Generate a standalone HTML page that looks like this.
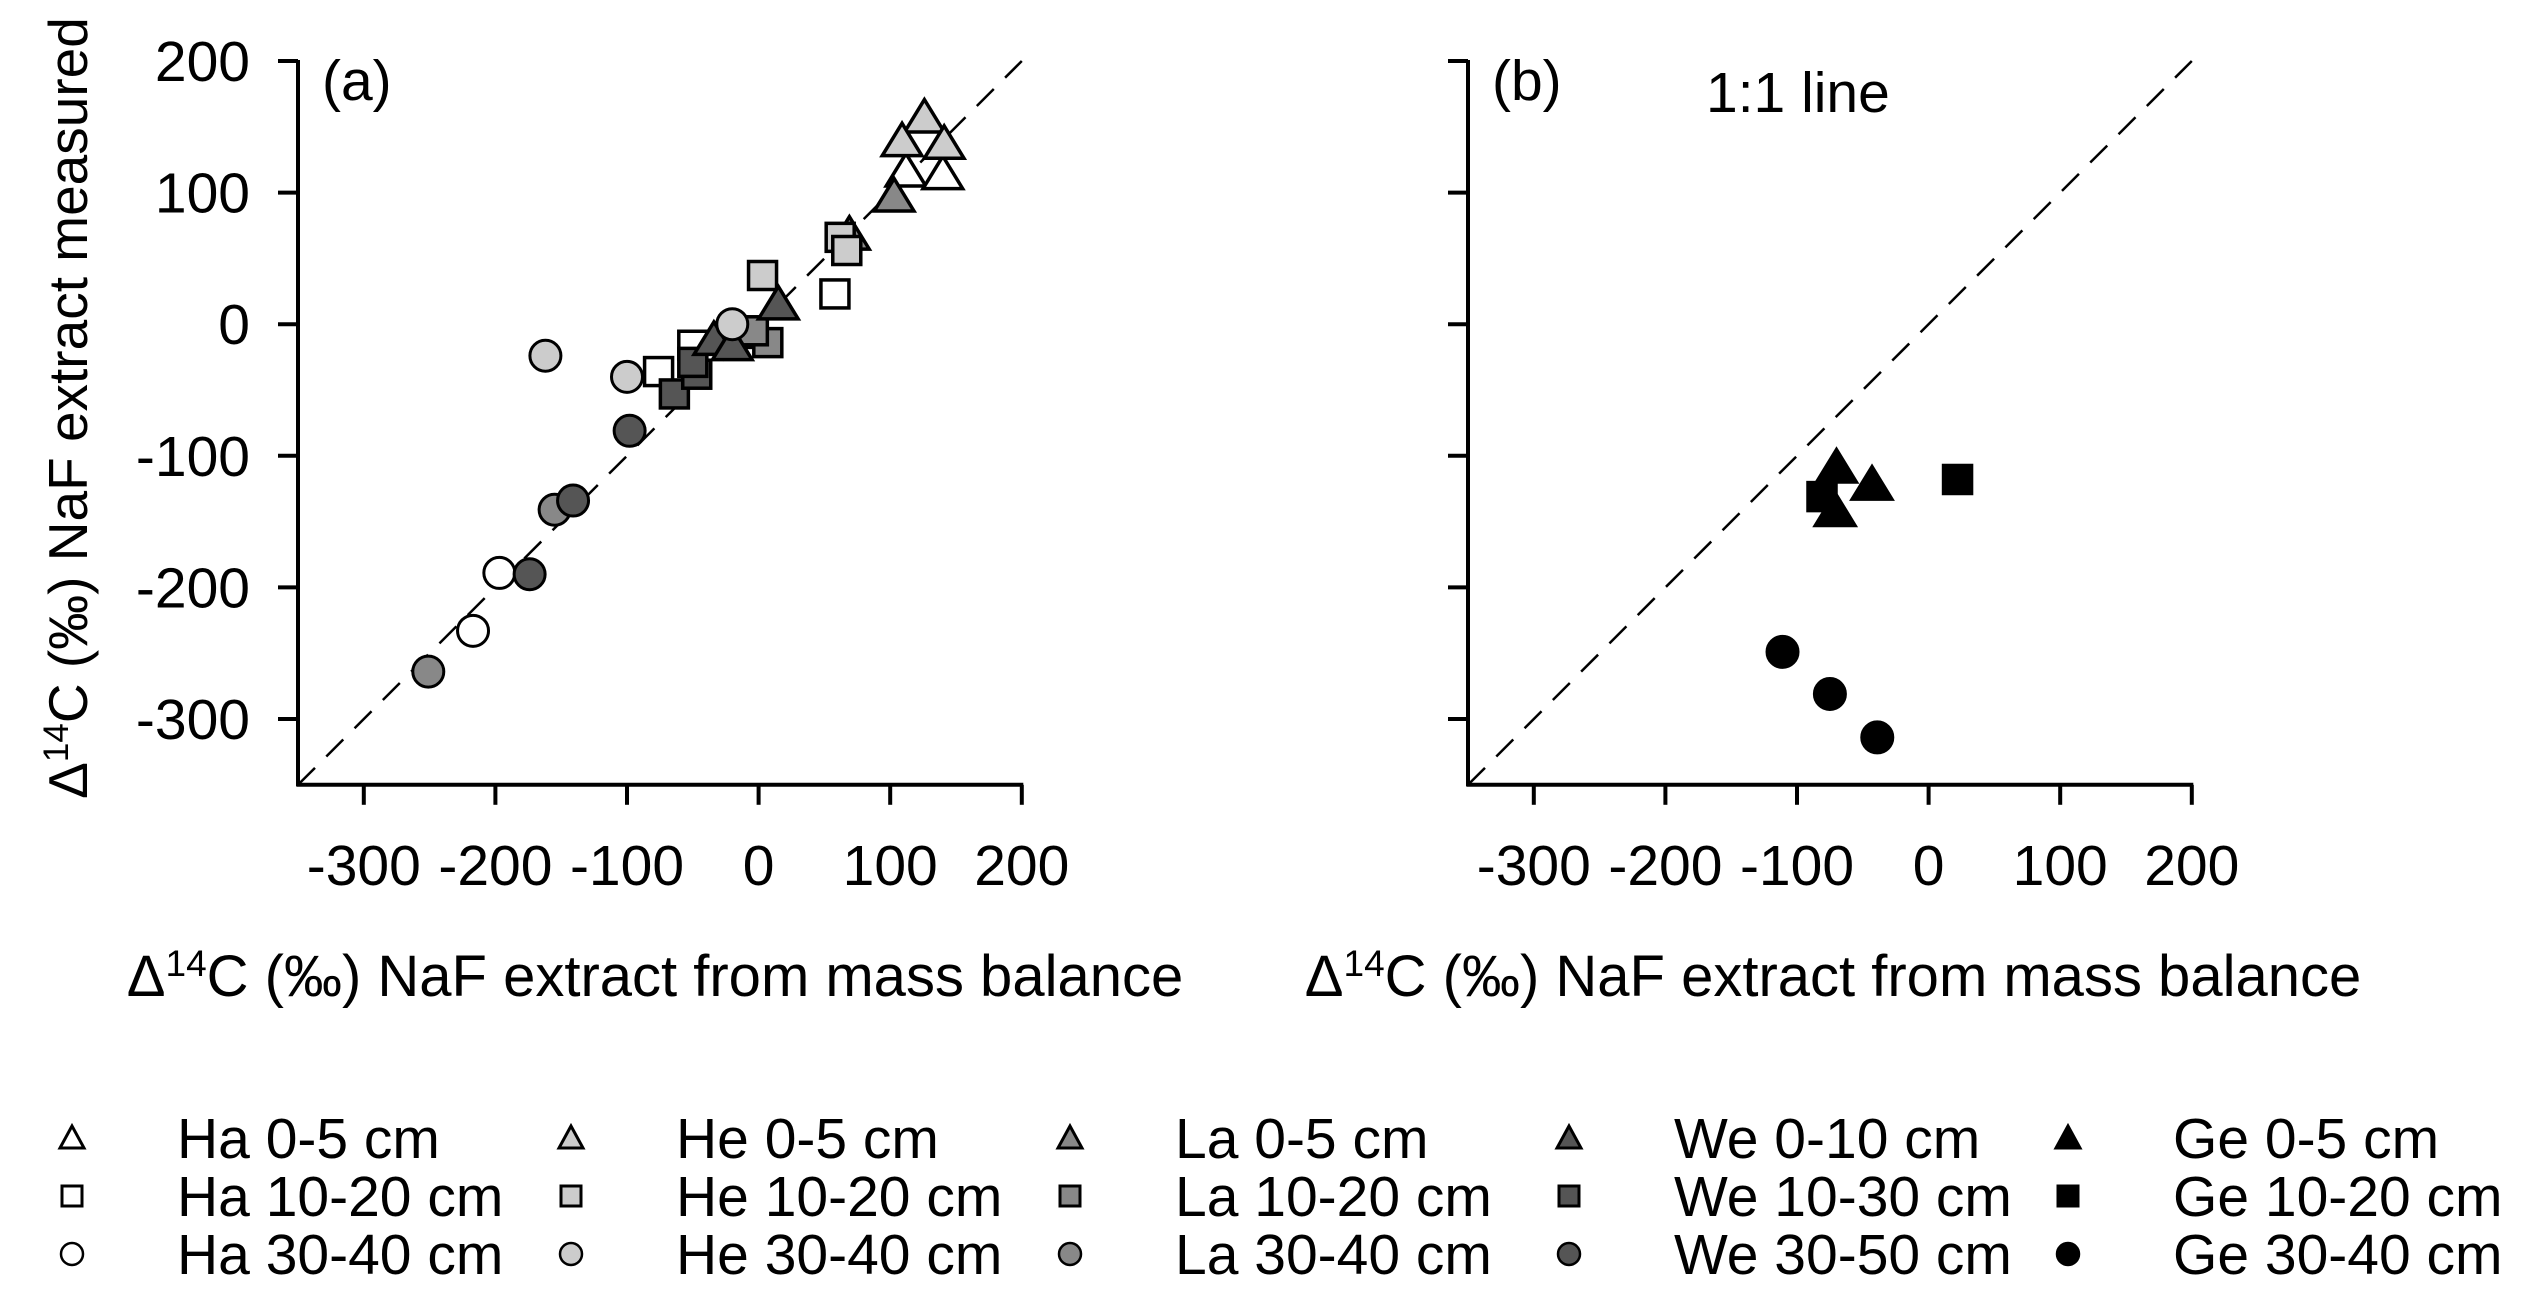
<!DOCTYPE html>
<html><head><meta charset="utf-8"><style>
html,body{margin:0;padding:0;background:#fff}
svg{display:block;font-family:"Liberation Sans",Arial,sans-serif}
</style></head><body>
<svg id="chart" width="2523" height="1298" viewBox="0 0 2523 1298" xmlns="http://www.w3.org/2000/svg"></svg>
<script>
const tickValues = [-300, -200, -100, 0, 100, 200];
const tickLabels = ["-300", "-200", "-100", "0", "100", "200"];
// panel (a) series: [x, y]
const haTop = [[112,116],[140,114]];
const heTop = [[126,157],[109,139],[141,137]];
const laTop = [[103,97],[69,68]];
const weTop = [[15,15],[-34,-12],[-20,-16]];
const haMid = [[58,23],[-76,-36],[-50,-16]];
const heMid = [[3,37],[62,66],[67,56]];
const laMid = [[7,-14],[-15,-7],[-4,-5]];
const weMid = [[-64,-53],[-47,-38],[-50,-29]];
const haDeep = [[-197,-189],[-217,-233]];
const heDeep = [[-162,-24],[-100,-40],[-20,0]];
const laDeep = [[-251,-264],[-155,-141]];
const weDeep = [[-98,-81],[-141,-134],[-174,-190]];
// panel (b) series
const geTop = [[-70,-109],[-43,-122],[-71,-142]];
const geMid = [[-81,-131],[22,-118]];
const geDeep = [[-111,-249],[-75,-281],[-39,-314]];

const NS = "http://www.w3.org/2000/svg";
const svg = document.getElementById('chart');
function mk(tag, attrs, parent){const e=document.createElementNS(NS,tag);for(const k in attrs)e.setAttribute(k,attrs[k]);(parent||svg).appendChild(e);return e;}

const PPU = 1.316;
const Y0 = 324.2;
function yS(v){return Y0 - v*PPU;}
function makeX(axisLeft){const x0 = axisLeft + 350*PPU; return v => x0 + v*PPU;}

const colors = {white:'#ffffff', light:'#cccccc', mid:'#888888', dark:'#555555', black:'#000000'};

function marker(g, shape, cx, cy, fill, name){
  let e;
  if(shape==='tri'){
    const s=18;
    e=mk('polygon',{points:`${cx},${cy-s} ${cx-s*1.1},${cy+s*0.8} ${cx+s*1.1},${cy+s*0.8}`,fill:fill,stroke:'#000','stroke-width':3.5,'stroke-linejoin':'miter'},g);
  } else if(shape==='sq'){
    const s=14;
    e=mk('rect',{x:cx-s,y:cy-s,width:2*s,height:2*s,fill:fill,stroke:'#000','stroke-width':3.5},g);
  } else {
    e=mk('circle',{cx:cx,cy:cy,r:15.5,fill:fill,stroke:'#000','stroke-width':3},g);
  }
  
  
  return e;
}

function panel(id, axisLeft, label, series, extraText, titleX){
  const xS = makeX(axisLeft);
  const g = mk('g',{});
  
  
  const bottom = yS(-350), top = yS(200), right = xS(200);
  const dl = mk('line',{x1:xS(-350),y1:yS(-350),x2:xS(200),y2:yS(200),stroke:'#000','stroke-width':2.5,'stroke-dasharray':'24,16'},g);
  
  
  const ya = mk('line',{x1:axisLeft,y1:top-1,x2:axisLeft,y2:bottom+1.5,stroke:'#000','stroke-width':4},g);
  
  
  const xa = mk('line',{x1:axisLeft-1.5,y1:bottom,x2:right+1.5,y2:bottom,stroke:'#000','stroke-width':4},g);
  
  
  tickValues.forEach((v,i)=>{
    mk('line',{x1:axisLeft-20,y1:yS(v),x2:axisLeft,y2:yS(v),stroke:'#000','stroke-width':4},g);
    mk('line',{x1:xS(v),y1:bottom,x2:xS(v),y2:bottom+20,stroke:'#000','stroke-width':4},g);
    if(id==='a'){
      const t=mk('text',{x:250,y:yS(v)+20,'font-size':57,'text-anchor':'end'},g);
      t.textContent=tickLabels[i];
      
      
    }
    const tx=mk('text',{x:xS(v),y:885,'font-size':57,'text-anchor':'middle'},g);
    tx.textContent=tickLabels[i];
    
    
  });
  const pl=mk('text',{x:axisLeft+24,y:100,'font-size':57},g);
  pl.textContent=label;
  
  
  if(extraText){
    const et=mk('text',{x:1706,y:112,'font-size':57},g);
    et.textContent=extraText;
    
    
  }
  series.forEach(s=>{
    s.data.forEach(p=>{ marker(g, s.shape, xS(p[0]), yS(p[1]), s.fill, s.name); });
  });
  const xt=mk('text',{x:titleX,y:996,'font-size':58,'text-anchor':'middle'},g);
  
  
  xt.innerHTML='Δ<tspan baseline-shift="super" font-size="37">14</tspan>C (‰) NaF extract from mass balance';
}

panel('a', 298, '(a)', [
  {data:haTop,shape:'tri',fill:colors.white,name:'ha-0-5-point'},
  {data:heTop,shape:'tri',fill:colors.light,name:'he-0-5-point'},
  {data:laTop,shape:'tri',fill:colors.mid,name:'la-0-5-point'},
  {data:haMid,shape:'sq',fill:colors.white,name:'ha-10-20-point'},
  {data:heMid,shape:'sq',fill:colors.light,name:'he-10-20-point'},
  {data:laMid,shape:'sq',fill:colors.mid,name:'la-10-20-point'},
  {data:weMid,shape:'sq',fill:colors.dark,name:'we-10-30-point'},
  {data:weTop,shape:'tri',fill:colors.dark,name:'we-0-10-point'},
  {data:haDeep,shape:'circ',fill:colors.white,name:'ha-30-40-point'},
  {data:heDeep,shape:'circ',fill:colors.light,name:'he-30-40-point'},
  {data:laDeep,shape:'circ',fill:colors.mid,name:'la-30-40-point'},
  {data:weDeep,shape:'circ',fill:colors.dark,name:'we-30-50-point'}
], null, 655);
panel('b', 1468, '(b)', [
  {data:geMid,shape:'sq',fill:colors.black,name:'ge-10-20-point'},
  {data:geTop,shape:'tri',fill:colors.black,name:'ge-0-5-point'},
  {data:geDeep,shape:'circ',fill:colors.black,name:'ge-30-40-point'}
], '1:1 line', 1833);

const yt=mk('text',{x:0,y:0,'font-size':55,'text-anchor':'middle',transform:'translate(87,408) rotate(-90)'});


yt.innerHTML='Δ<tspan baseline-shift="super" font-size="35">14</tspan>C (‰) NaF extract measured';

const legendSites = ['Ha','He','La','We','Ge'];
const legendDepths = [['0-5 cm','10-20 cm','30-40 cm'],['0-5 cm','10-20 cm','30-40 cm'],['0-5 cm','10-20 cm','30-40 cm'],['0-10 cm','10-30 cm','30-50 cm'],['0-5 cm','10-20 cm','30-40 cm']];
const legendFills = [colors.white, colors.light, colors.mid, colors.dark, colors.black];
const legendShapes = ['tri','sq','circ'];
const colX = [72, 571, 1070, 1569, 2068];
const rowY = [1138, 1196, 1254];
const lg = mk('g',{});


legendSites.forEach((site,c)=>{
  legendShapes.forEach((sh,r)=>{
    const cx=colX[c], cy=rowY[r];
    let e;
    if(sh==='tri') e=mk('polygon',{points:`${cx},${cy-12} ${cx-12},${cy+10} ${cx+12},${cy+10}`,fill:legendFills[c],stroke:'#000','stroke-width':3},lg);
    else if(sh==='sq') e=mk('rect',{x:cx-10,y:cy-10,width:20,height:20,fill:legendFills[c],stroke:'#000','stroke-width':3},lg);
    else e=mk('circle',{cx:cx,cy:cy,r:11,fill:legendFills[c],stroke:'#000','stroke-width':2.5},lg);
    
    
    const t=mk('text',{x:cx+105,y:cy+20,'font-size':57},lg);
    t.textContent=site+' '+legendDepths[c][r];
    
    
  });
});
</script>
</body></html>
